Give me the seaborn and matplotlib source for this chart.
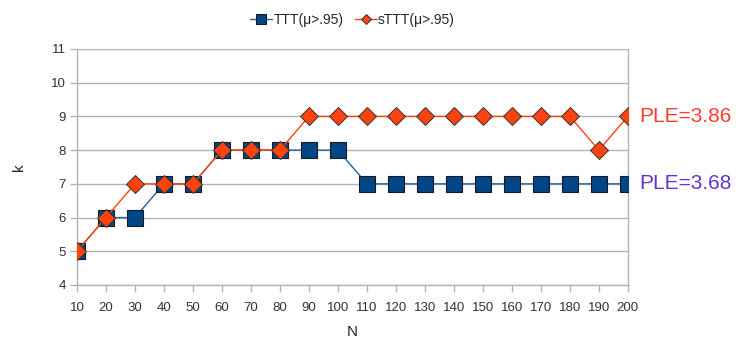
import pandas as pd
import numpy as np
import matplotlib
matplotlib.use("Agg")
import matplotlib.pyplot as plt
import seaborn as sns

# data
n_values = [10, 20, 30, 40, 50, 60, 70, 80, 90, 100,
            110, 120, 130, 140, 150, 160, 170, 180, 190, 200]
ttt_k = [5, 6, 6, 7, 7, 8, 8, 8, 8, 8,
         7, 7, 7, 7, 7, 7, 7, 7, 7, 7]
sttt_k = [5, 6, 7, 7, 7, 8, 8, 8, 9, 9,
          9, 9, 9, 9, 9, 9, 9, 9, 8, 9]
series_names = ["TTT(μ>.95)", "sTTT(μ>.95)"]
ple_labels = ["PLE=3.86", "PLE=3.68"]

df = pd.DataFrame({
    "N": n_values * 2,
    "k": ttt_k + sttt_k,
    "series": [series_names[0]] * len(n_values) + [series_names[1]] * len(n_values),
})

sns.set_style("white")
plt.rcParams['font.family'] = ['Liberation Sans', 'DejaVu Sans']

fig = plt.figure(figsize=(7.51, 3.45), dpi=100)
ax = fig.add_axes([0.1025, 0.174, 0.7335, 0.684])

blue = "#004586"
orange = "#ff420e"

sns.lineplot(data=df[df["series"] == series_names[0]], x="N", y="k", ax=ax,
             color="#2a5f9a", linewidth=1.0, marker="s", markersize=11,
             markerfacecolor=blue, markeredgecolor="#1a1a1a", markeredgewidth=0.8,
             label=series_names[0], zorder=3)
sns.lineplot(data=df[df["series"] == series_names[1]], x="N", y="k", ax=ax,
             color=orange, linewidth=1.0, marker="D", markersize=9,
             markerfacecolor=orange, markeredgecolor="#333333", markeredgewidth=0.7,
             label=series_names[1], zorder=4)

ax.set_xlim(10, 200)
ax.set_ylim(4, 11)
ax.set_xticks(n_values)
ax.set_yticks(range(4, 12))
ax.tick_params(axis="both", labelsize=9.5, length=5, width=1, color="#b3b3b3",
               direction="out", labelcolor="#333333", pad=3,
               bottom=True, left=True)
ax.tick_params(axis="x", pad=7)
ax.yaxis.grid(True, color="#b3b3b3", linewidth=1)
ax.xaxis.grid(False)
for side in ["left", "right", "bottom"]:
    ax.spines[side].set_color("#b3b3b3")
    ax.spines[side].set_linewidth(1)
ax.spines["top"].set_visible(False)
ax.set_xlabel("N", fontsize=11, labelpad=8)
ax.set_ylabel("k", fontsize=11, labelpad=18)

leg = ax.legend(loc="lower center", bbox_to_anchor=(0.5, 1.07), ncol=2,
                frameon=False, fontsize=10, handlelength=1.6,
                handletextpad=0.1, columnspacing=0.8, markerscale=0.6,
                borderaxespad=0)

ax.text(1.02, 9, ple_labels[0], transform=ax.get_yaxis_transform(),
        color="#ff3b30", fontsize=15, va="center", ha="left")
ax.text(1.02, 7, ple_labels[1], transform=ax.get_yaxis_transform(),
        color="#6633cc", fontsize=15, va="center", ha="left")

fig.savefig("out.png", dpi=100)
